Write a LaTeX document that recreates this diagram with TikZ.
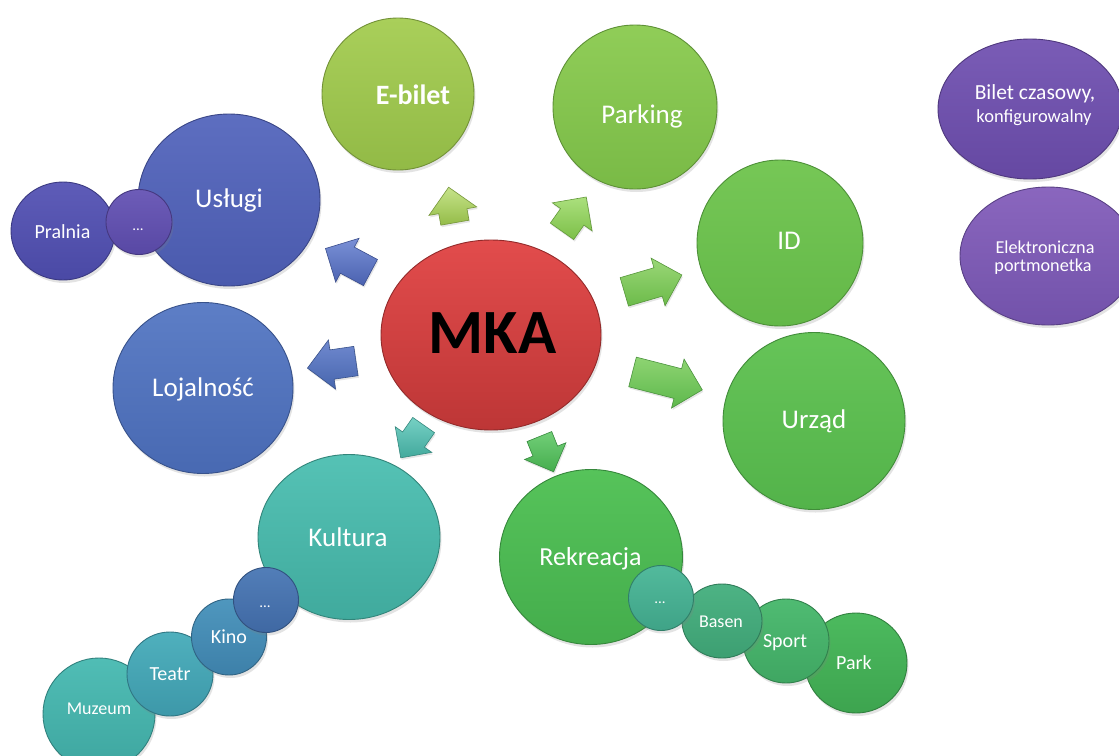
\documentclass[tikz,border=0pt]{standalone}
\usepackage{fontspec}
\setmainfont{Carlito}
\usetikzlibrary{shapes.geometric,shapes.arrows,shadows}
\definecolor{mkaA}{HTML}{E24C4C}\definecolor{mkaB}{HTML}{BD3636}
\definecolor{ebA}{HTML}{A9CF5A}\definecolor{ebB}{HTML}{92BA46}
\definecolor{paA}{HTML}{90CD58}\definecolor{paB}{HTML}{79BA46}
\definecolor{idA}{HTML}{76C756}\definecolor{idB}{HTML}{63B848}
\definecolor{urA}{HTML}{66C458}\definecolor{urB}{HTML}{53B34A}
\definecolor{reA}{HTML}{56C35A}\definecolor{reB}{HTML}{44AD4C}
\definecolor{pkA}{HTML}{4CBA5E}\definecolor{pkB}{HTML}{3DA44F}
\definecolor{spA}{HTML}{4FBB72}\definecolor{spB}{HTML}{3FA662}
\definecolor{baA}{HTML}{4DB384}\definecolor{baB}{HTML}{3D9F72}
\definecolor{rdA}{HTML}{52BA9C}\definecolor{rdB}{HTML}{3FA387}
\definecolor{kuA}{HTML}{55C2B5}\definecolor{kuB}{HTML}{40AA9D}
\definecolor{muA}{HTML}{50BDB5}\definecolor{muB}{HTML}{3EA6A0}
\definecolor{teA}{HTML}{4FB0BD}\definecolor{teB}{HTML}{3D98A9}
\definecolor{kiA}{HTML}{4F97BE}\definecolor{kiB}{HTML}{3D80A9}
\definecolor{kdA}{HTML}{527EB8}\definecolor{kdB}{HTML}{3F68A3}
\definecolor{loA}{HTML}{5D7EC6}\definecolor{loB}{HTML}{4869B2}
\definecolor{usA}{HTML}{5D6EC0}\definecolor{usB}{HTML}{4A5AAD}
\definecolor{prA}{HTML}{5E5CB8}\definecolor{prB}{HTML}{4A49A5}
\definecolor{udA}{HTML}{6D5CB8}\definecolor{udB}{HTML}{5848A4}
\definecolor{biA}{HTML}{7A5CB6}\definecolor{biB}{HTML}{6548A2}
\definecolor{poA}{HTML}{8A66BE}\definecolor{poB}{HTML}{7252AA}
% arrows
\definecolor{aUsA}{HTML}{7A90D6}\definecolor{aUsB}{HTML}{4A62B0}
\definecolor{aLoA}{HTML}{7089CF}\definecolor{aLoB}{HTML}{4766AE}
\definecolor{aEbA}{HTML}{C6E38A}\definecolor{aEbB}{HTML}{94BC48}
\definecolor{aPaA}{HTML}{ABE07D}\definecolor{aPaB}{HTML}{7CBF48}
\definecolor{aIdA}{HTML}{9AD777}\definecolor{aIdB}{HTML}{6CBB4A}
\definecolor{aUrA}{HTML}{8ED472}\definecolor{aUrB}{HTML}{5DB84C}
\definecolor{aReA}{HTML}{72CF78}\definecolor{aReB}{HTML}{45AD4E}
\definecolor{aKuA}{HTML}{76D0C4}\definecolor{aKuB}{HTML}{42A99C}
\tikzset{
  ball/.style={ellipse, inner sep=0pt, line width=0.9pt,
    drop shadow={opacity=0.22, shadow xshift=1.5pt, shadow yshift=-3pt}},
  sz/.style 2 args={minimum width=#1pt, minimum height=#2pt},
  col/.style 2 args={top color=#1, bottom color=#2, draw=#2!78!black},
  lbl/.style={text=white, anchor=base, inner sep=0pt, font=\fontsize{27}{30}\selectfont},
  slbl/.style={text=white, anchor=base, inner sep=0pt, font=\fontsize{20}{22}\selectfont},
  tlbl/.style={text=white, anchor=base, inner sep=0pt, font=\fontsize{18}{20}\selectfont},
  dlbl/.style={text=white, anchor=base, inner sep=0pt, font=\fontsize{15}{16}\selectfont},
  barrow/.style={single arrow, single arrow head extend=10pt,
    inner xsep=0pt, inner ysep=14.5pt, line width=0.6pt,
    drop shadow={opacity=0.2, shadow xshift=1pt, shadow yshift=-2pt}},
  acol/.style 2 args={top color=#1, bottom color=#2, draw=#2!80!black},
}
\begin{document}
\begin{tikzpicture}[x=1pt,y=-1pt]
\useasboundingbox (0,0) rectangle (1119,755);
\fill[white] (0,0) rectangle (1119,755);

% ---- central node
\node[ball, sz={220}{190}, col={mkaA}{mkaB}] (mka) at (491,335) {};
\node[anchor=base, inner sep=0pt, font=\fontsize{63}{63}\selectfont\bfseries] (mkaT) at (492.5,353) {MKA};

% ---- green side
\node[ball, sz={152}{152}, col={ebA}{ebB}] (ebilet) at (398,94) {};
\node[lbl, font=\fontsize{28}{30}\selectfont\bfseries] (ebiletT) at (413,104) {E-bilet};

\node[ball, sz={164}{164}, col={paA}{paB}] (parking) at (635,107) {};
\node[lbl] (parkingT) at (642,123) {Parking};

\node[ball, sz={166}{166}, col={idA}{idB}] (id) at (780,243) {};
\node[lbl] (idT) at (789,249) {ID};

\node[ball, sz={182}{177}, col={urA}{urB}] (urzad) at (814,421) {};
\node[lbl] (urzadT) at (814,428) {Urząd};

% ---- Rekreacja chain
\node[ball, sz={183}{175}, col={reA}{reB}] (rek) at (591,557) {};
\node[lbl, font=\fontsize{26}{28}\selectfont] (rekT) at (590.5,565) {Rekreacja};
\node[ball, sz={102}{100}, col={pkA}{pkB}] (park) at (856,663) {};
\node[slbl] (parkT) at (854,669) {Park};
\node[ball, sz={86}{84}, col={spA}{spB}] (sport) at (786,641) {};
\node[slbl] (sportT) at (785,647) {Sport};
\node[ball, sz={80}{74}, col={baA}{baB}] (basen) at (722,621) {};
\node[tlbl] (basenT) at (721,627) {Basen};
\node[ball, sz={65}{65}, col={rdA}{rdB}] (rdots) at (661,598) {};
\node[dlbl] (rdotsT) at (660,603) {...};

% ---- Kultura chain
\node[ball, sz={182}{165}, col={kuA}{kuB}] (kult) at (349,537) {};
\node[lbl] (kultT) at (348,546) {Kultura};
\node[ball, sz={112}{112}, col={muA}{muB}] (muz) at (99,714) {};
\node[tlbl] (muzT) at (99,714) {Muzeum};
\node[ball, sz={86}{84}, col={teA}{teB}] (teatr) at (170,674) {};
\node[slbl] (teatrT) at (170,680) {Teatr};
\node[ball, sz={75}{76}, col={kiA}{kiB}] (kino) at (229,637) {};
\node[slbl] (kinoT) at (229,643) {Kino};
\node[ball, sz={65}{65}, col={kdA}{kdB}] (kdots) at (266,600) {};
\node[dlbl] (kdotsT) at (265,607) {...};

% ---- blue side
\node[ball, sz={180}{171}, col={loA}{loB}] (loj) at (203,388) {};
\node[lbl] (lojT) at (203,396) {Lojalność};

\node[ball, sz={182}{172}, col={usA}{usB}] (uslugi) at (229,200) {};
\node[lbl] (uslugiT) at (229,207) {Usługi};
\node[ball, sz={104}{98}, col={prA}{prB}] (pralnia) at (63,231) {};
\node[slbl] (pralniaT) at (62.5,238) {Pralnia};
\node[ball, sz={66}{65}, col={udA}{udB}] (udots) at (139,222) {};
\node[dlbl] (udotsT) at (138,230) {...};

% ---- purple
\node[ball, sz={184}{140}, col={biA}{biB}] (bilet) at (1030,109) {};
\node[anchor=base, inner sep=0pt, text=white, font=\fontsize{21.5}{22}\selectfont] (biletT) at (1035,99) {Bilet czasowy,};
\node[anchor=base, inner sep=0pt, text=white, font=\fontsize{18.5}{20}\selectfont] (biletT2) at (1034,122) {konfigurowalny};
\node[ball, sz={176}{138}, col={poA}{poB}] (portm) at (1048,256) {};
\node[anchor=base, inner sep=0pt, text=white, font=\fontsize{18.2}{20}\selectfont] (portmT) at (1045,253) {Elektroniczna};
\node[anchor=base, inner sep=0pt, text=white, font=\fontsize{18.2}{20}\selectfont] (portmT2) at (1043,271) {portmonetka};

% ---- block arrows
\node[barrow, minimum height=51pt, rotate=151.9, acol={aUsA}{aUsB}] (aUs) at (354.5,264) {};
\node[barrow, minimum height=49pt, rotate=188.3, acol={aLoA}{aLoB}] (aLo) at (339,363.5) {};
\node[barrow, minimum height=36pt, inner ysep=14pt, rotate=100, acol={aEbA}{aEbB}] (aEb) at (453,212) {};
\node[barrow, minimum height=42pt, inner ysep=14pt, rotate=54.8, acol={aPaA}{aPaB}] (aPa) at (570,220) {};
\node[barrow, minimum height=60pt, rotate=16.3, acol={aIdA}{aIdB}] (aId) at (646,285.5) {};
\node[barrow, minimum height=72pt, inner ysep=15pt, rotate=-14.4, acol={aUrA}{aUrB}] (aUr) at (660,379) {};
\node[barrow, minimum height=38pt, inner ysep=13pt, single arrow head extend=9pt, rotate=-68, acol={aReA}{aReB}] (aRe) at (544,448) {};
\node[barrow, minimum height=40pt, inner ysep=13pt, single arrow head extend=9pt, rotate=-125, acol={aKuA}{aKuB}] (aKu) at (416,436) {};
\end{tikzpicture}
\end{document}
